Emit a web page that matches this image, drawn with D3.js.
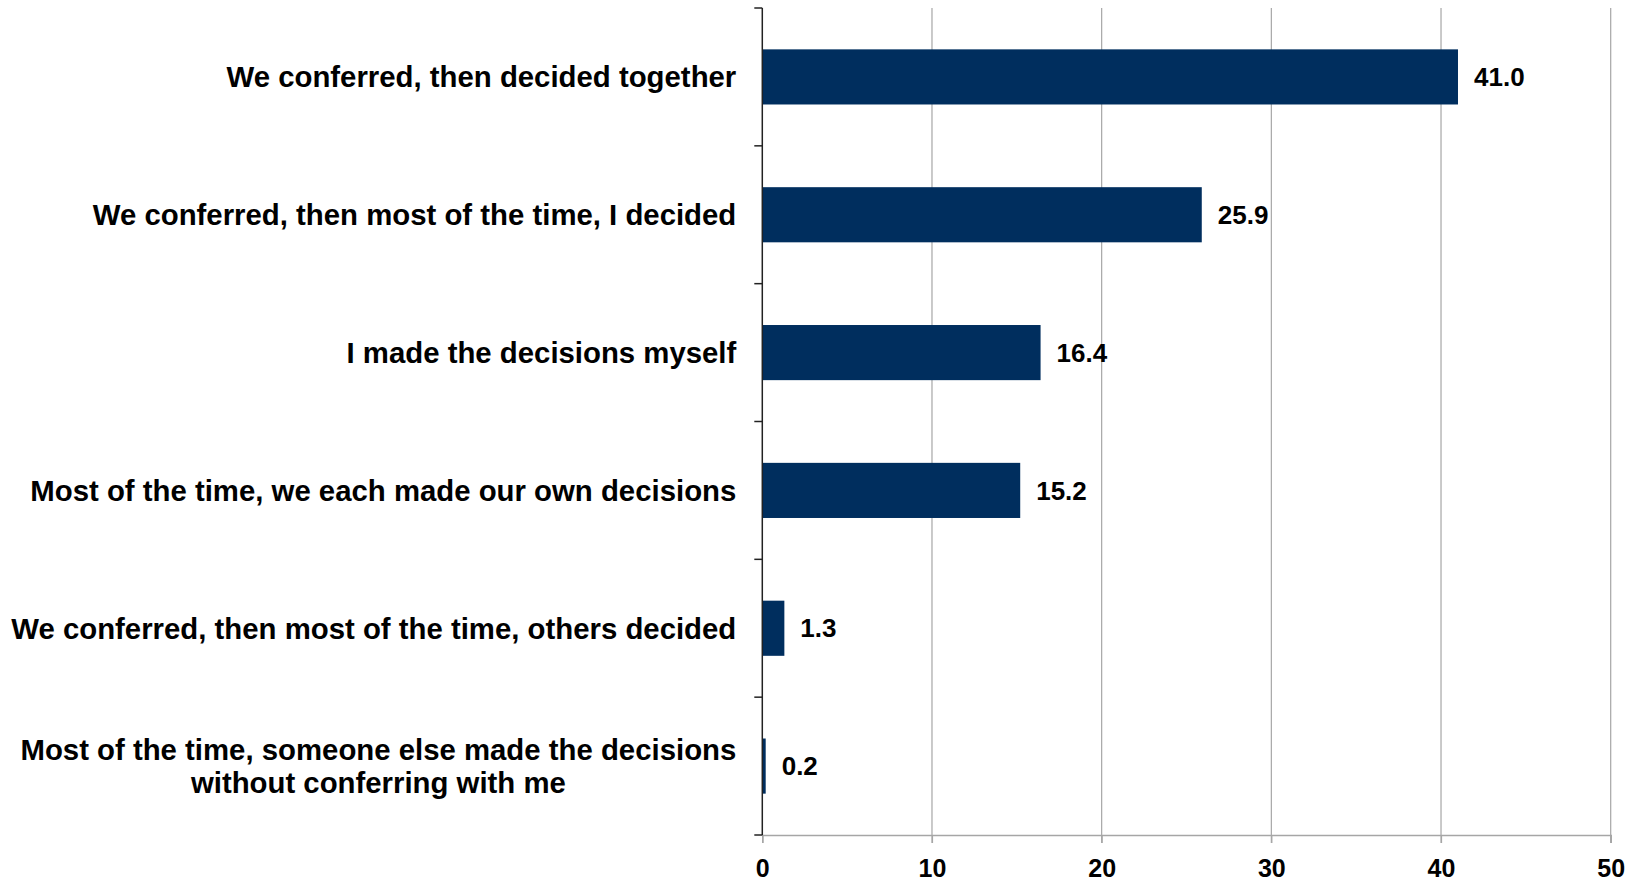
<!DOCTYPE html>
<html>
<head>
<meta charset="utf-8">
<script src="https://cdn.jsdelivr.net/npm/d3@7"></script>
<style>
  html, body { margin: 0; padding: 0; background: #fff; }
  svg { display: block; }
  text { font-family: "Liberation Sans", Arial, sans-serif; font-weight: bold; fill: #000; }
</style>
</head>
<body>
<svg id="chart" width="1642" height="881"></svg>
<script>
// Category labels (multi-line labels split into lines)
const categories = [
  ["We conferred, then decided together"],
  ["We conferred, then most of the time, I decided"],
  ["I made the decisions myself"],
  ["Most of the time, we each made our own decisions"],
  ["We conferred, then most of the time, others decided"],
  ["Most of the time, someone else made the decisions", "without conferring with me"]
];
const values = [41.0, 25.9, 16.4, 15.2, 1.3, 0.2];
const xTicks = [0, 10, 20, 30, 40, 50];

const svg = d3.select("#chart");
const plotLeft = 762.3, plotRight = 1610.7, plotTop = 8, plotBottom = 835;

const x = d3.scaleLinear().domain([0, 50]).range([plotLeft, plotRight]);
const y = d3.scaleBand()
  .domain(categories.map((d, i) => i))
  .range([plotTop, plotBottom])
  .paddingInner(0.6)
  .paddingOuter(0.3);

// vertical gridlines with ticks below the axis
svg.append("g").selectAll("line")
  .data(xTicks.filter(t => t > 0))
  .join("line")
  .attr("x1", d => x(d)).attr("x2", d => x(d))
  .attr("y1", plotTop).attr("y2", plotBottom + 8)
  .attr("stroke", "#a6a6a6").attr("stroke-width", 1.2);

// bottom axis
const xAxis = d3.axisBottom(x).tickValues(xTicks).tickSize(8).tickPadding(16).tickFormat(d3.format("d"));
const gx = svg.append("g").attr("transform", `translate(0,${plotBottom})`).call(xAxis);
gx.select(".domain").attr("stroke", "#a6a6a6").attr("stroke-width", 1.5);
gx.selectAll(".tick line").attr("stroke", "#a6a6a6").attr("stroke-width", 1.2);
gx.selectAll(".tick text").style("font-size", "25px").style("font-family", "Liberation Sans, Arial, sans-serif").style("font-weight", "bold").attr("fill", "#000");

// bars
svg.append("g").selectAll("rect")
  .data(values)
  .join("rect")
  .attr("x", x(0))
  .attr("y", (d, i) => y(i))
  .attr("width", d => x(d) - x(0))
  .attr("height", y.bandwidth())
  .attr("fill", "#002e5e");

// value labels
svg.append("g").selectAll("text")
  .data(values)
  .join("text")
  .attr("x", d => x(d) + 16)
  .attr("y", (d, i) => y(i) + y.bandwidth() / 2)
  .attr("dy", "0.35em")
  .style("font-size", "26px")
  .text(d => d.toFixed(1));

// left axis line and category boundary ticks
const step = (plotBottom - plotTop) / categories.length;
const gy = svg.append("g");
gy.append("line")
  .attr("x1", x(0)).attr("x2", x(0))
  .attr("y1", plotTop).attr("y2", plotBottom)
  .attr("stroke", "#222").attr("stroke-width", 1.5);
gy.selectAll("line.tk")
  .data(d3.range(categories.length + 1))
  .join("line")
  .attr("class", "tk")
  .attr("x1", x(0) - 8).attr("x2", x(0))
  .attr("y1", i => plotTop + i * step).attr("y2", i => plotTop + i * step)
  .attr("stroke", "#222").attr("stroke-width", 1.5);

// category labels
const labelX = x(0) - 26;
const lineH = 33;
const lg = svg.append("g");
categories.forEach((lines, i) => {
  const cy = y(i) + y.bandwidth() / 2;
  const t = lg.append("text")
    .style("font-size", "29.35px");
  const n = lines.length;
  const first = t.append("tspan")
    .attr("x", labelX)
    .attr("y", cy - (n - 1) * lineH / 2)
    .attr("dy", "0.35em")
    .attr("text-anchor", "end")
    .text(lines[0]);
  if (n > 1) {
    const w = first.node().getComputedTextLength();
    lines.slice(1).forEach((ln, k) => {
      t.append("tspan")
        .attr("x", labelX - w / 2)
        .attr("y", cy - (n - 1) * lineH / 2 + (k + 1) * lineH)
        .attr("dy", "0.35em")
        .attr("text-anchor", "middle")
        .text(ln);
    });
  }
});
</script>
</body>
</html>
